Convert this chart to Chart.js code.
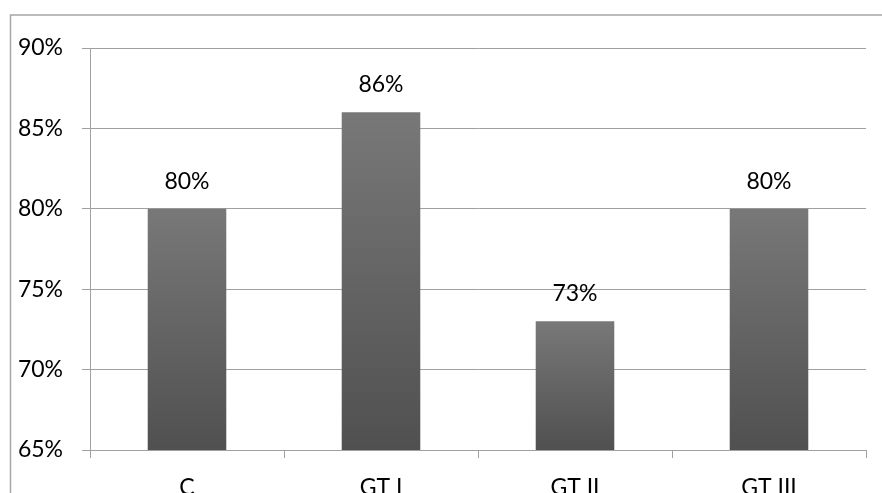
<!DOCTYPE html>
<html>
<head>
<meta charset="utf-8">
<script src="https://cdn.jsdelivr.net/npm/chart.js@4/dist/chart.umd.min.js"></script>
<style>
  html, body { margin: 0; padding: 0; background: #fff; overflow: hidden; }
  #wrap { width: 882px; height: 493px; }
</style>
</head>
<body>
<div id="wrap"><canvas id="myChart" width="882" height="493"></canvas></div>
<script>
const categorias = ['C', 'GT I', 'GT II', 'GT III'];
const valores = [80, 86, 73, 80];
const yMin = 65;
const yMax = 90;
const yPaso = 5;

const fuente = 'Lato, "Open Sans", sans-serif';
const grisLinea = '#a0a0a0';

// degradado por barra, de arriba hacia abajo
function rellenoBarra(ctx) {
    const chart = ctx.chart;
    const area = chart.chartArea;
    if (!area || !chart.scales.y) return '#666';
    const top = chart.scales.y.getPixelForValue(ctx.raw);
    const g = chart.ctx.createLinearGradient(0, top, 0, area.bottom);
    g.addColorStop(0, '#787878');
    g.addColorStop(1, '#505050');
    return g;
}

const marco = {
    id: 'marco',
    beforeDraw(chart) {
        const c = chart.ctx;
        c.save();
        c.strokeStyle = '#a6a6a6';
        c.lineWidth = 1.5;
        c.strokeRect(10.5, 15, 1000, 1000);
        c.restore();
    }
};

const etiquetas = {
    id: 'etiquetas',
    afterDatasetsDraw(chart) {
        const c = chart.ctx;
        const meta = chart.getDatasetMeta(0);
        c.save();
        c.font = '23px ' + fuente;
        c.fillStyle = '#000';
        c.textAlign = 'center';
        c.textBaseline = 'alphabetic';
        meta.data.forEach((bar, i) => {
            c.fillText(valores[i] + '%', bar.x, bar.y - 20);
        });
        c.restore();
    }
};

const myChart = new Chart(document.getElementById('myChart'), {
    type: 'bar',
    data: {
        labels: categorias,
        datasets: [{
            data: valores,
            backgroundColor: rellenoBarra,
            borderWidth: 0,
            categoryPercentage: 1,
            barPercentage: 0.405
        }]
    },
    options: {
        responsive: false,
        animation: false,
        layout: { padding: { top: 48, right: 16, left: 0, bottom: 0 } },
        plugins: {
            legend: { display: false },
            tooltip: { enabled: false }
        },
        scales: {
            x: {
                grid: {
                    drawOnChartArea: false,
                    drawTicks: true,
                    tickLength: 8,
                    color: grisLinea,
                    offset: true
                },
                border: { color: grisLinea },
                ticks: {
                    color: '#000',
                    font: { family: fuente, size: 23 },
                    padding: 16,
                    maxRotation: 0
                },
                afterFit(scale) { scale.height = 43; }
            },
            y: {
                min: yMin,
                max: yMax,
                grid: {
                    color: grisLinea,
                    tickLength: 8
                },
                border: { color: grisLinea },
                ticks: {
                    stepSize: yPaso,
                    color: '#000',
                    font: { family: fuente, size: 23 },
                    padding: 19,
                    callback: v => v + '%'
                },
                afterFit(scale) { scale.width = 90; }
            }
        }
    },
    plugins: [marco, etiquetas]
});
</script>
</body>
</html>
